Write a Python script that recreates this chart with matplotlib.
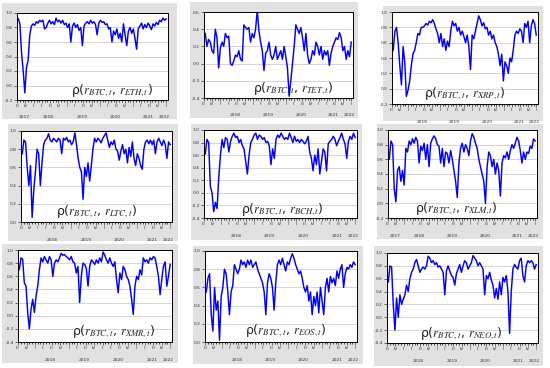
import numpy as np
import pandas as pd
import matplotlib
matplotlib.use('Agg')
import matplotlib.pyplot as plt
import matplotlib.dates as mdates
import matplotlib.transforms as mtrans
from matplotlib.patches import Rectangle
from matplotlib.ticker import FuncFormatter, MultipleLocator

plt.rcParams['mathtext.fontset'] = 'stix'

# rolling correlations with BTC (evenly spaced in time)
eth = [0.92, 0.85, 0.45, 0.2, -0.1, 0.25, 0.35, 0.7, 0.82, 0.85,
       0.83, 0.88, 0.86, 0.9, 0.88, 0.9, 0.78, 0.8, 0.86, 0.9,
       0.85, 0.88, 0.84, 0.93, 0.88, 0.9, 0.86, 0.9, 0.84, 0.86,
       0.8, 0.85, 0.6, 0.82, 0.86, 0.8, 0.84, 0.76, 0.8, 0.55,
       0.82, 0.86, 0.88, 0.85, 0.9, 0.86, 0.88, 0.84, 0.7, 0.86,
       0.9, 0.87, 0.88, 0.84, 0.85, 0.78, 0.8, 0.6, 0.75, 0.7,
       0.78, 0.65, 0.72, 0.6, 0.85, 0.7, 0.55, 0.75, 0.8, 0.72,
       0.78, 0.65, 0.5, 0.78, 0.82, 0.86, 0.78, 0.84, 0.8, 0.86,
       0.82, 0.77, 0.85, 0.82, 0.87, 0.84, 0.9, 0.88, 0.93, 0.9, 0.92]
tet = [0.35, 0.2, 0.28, 0.25, 0.15, 0.12, 0.4, 0.3, -0.05, 0.18,
       0.25, 0.2, 0.35, 0.3, 0.32, 0.0, -0.02, 0.03, 0.1, 0.08,
       0.15, 0.05, 0.03, 0.45, 0.42, 0.4, 0.42, 0.25, 0.35, 0.3,
       0.4, 0.62, 0.38, 0.25, 0.15, -0.08, 0.12, 0.15, 0.25, 0.1,
       0.05, 0.1, 0.2, 0.05, 0.1, 0.15, 0.05, 0.2, 0.08, -0.05,
       -0.38, -0.2, 0.0, 0.2, 0.45, 0.4, 0.35, 0.42, 0.3, 0.15,
       0.35, 0.1, 0.0, 0.05, 0.15, 0.1, 0.25, 0.2, 0.1, 0.2,
       0.05, 0.15, 0.1, 0.15, -0.02, 0.12, 0.2, 0.25, 0.3, 0.28,
       0.36, 0.3, 0.15, 0.2, 0.05, 0.15, 0.08, 0.25]
xrp = [0.5, 0.75, 0.8, 0.6, 0.3, 0.05, 0.55, 0.35, -0.1, -0.02,
       0.1, 0.3, 0.45, 0.5, 0.6, 0.72, 0.7, 0.8, 0.8, 0.82,
       0.85, 0.83, 0.88, 0.86, 0.9, 0.85, 0.78, 0.72, 0.6, 0.72,
       0.55, 0.65, 0.5, 0.62, 0.55, 0.75, 0.88, 0.82, 0.85, 0.75,
       0.8, 0.7, 0.75, 0.68, 0.6, 0.7, 0.55, 0.25, 0.7, 0.65,
       0.75, 0.85, 0.95, 0.9, 0.82, 0.86, 0.78, 0.8, 0.7, 0.75,
       0.65, 0.7, 0.6, 0.55, 0.45, 0.3, 0.45, 0.1, 0.35, 0.3,
       0.2, 0.4, 0.35, 0.5, 0.7, 0.75, 0.72, 0.78, 0.75, 0.6,
       0.85, 0.8, 0.88, 0.6, 0.82, 0.9, 0.85, 0.7]
ltc = [0.75, 0.9, 0.88, 0.6, 0.4, 0.62, 0.05, 0.35, 0.55, 0.8,
       0.75, 0.4, 0.65, 0.85, 0.9, 0.92, 0.97, 0.9, 0.88, 0.92,
       0.9, 0.88, 0.92, 0.9, 0.75, 0.92, 0.9, 0.93, 0.88, 0.9,
       0.85, 0.88, 0.98, 0.85, 0.7, 0.6, 0.55, 0.25, 0.6, 0.5,
       0.65, 0.45, 0.62, 0.8, 0.92, 0.88, 0.92, 0.9, 0.87, 0.92,
       0.95, 0.98, 0.9, 0.82, 0.88, 0.85, 0.9, 0.8, 0.78, 0.68,
       0.78, 0.85, 0.75, 0.8, 0.65, 0.82, 0.72, 0.88, 0.7, 0.62,
       0.75, 0.7, 0.62, 0.58, 0.8, 0.88, 0.9, 0.86, 0.9, 0.85,
       0.9, 0.75, 0.88, 0.92, 0.88, 0.84, 0.9, 0.85, 0.7, 0.88, 0.85]
bch = [0.62, 0.85, 0.8, 0.1, 0.0, -0.3, -0.15, -0.25, 0.25, 0.6,
       0.85, 0.72, 0.88, 0.85, 0.65, 0.82, 0.9, 0.95, 0.88, 0.9,
       0.8, 0.85, 0.75, 0.7, 0.5, 0.3, 0.6, 0.8, 0.85, 0.92,
       0.95, 0.85, 0.92, 0.9, 0.85, 0.88, 0.8, 0.82, 0.75, 0.45,
       0.7, 0.55, 0.85, 0.92, 0.88, 0.95, 0.9, 0.85, 0.88, 0.85,
       0.95, 0.88, 0.8, 0.9, 0.82, 0.85, 0.8, 0.85, 0.82, 0.78,
       0.82, 0.9, 0.65, 0.55, 0.35, 0.6, 0.45, 0.7, 0.3, 0.5,
       0.7, 0.65, 0.35, 0.78, 0.82, 0.85, 0.9, 0.85, 0.75, 0.82,
       0.88, 0.95, 0.85, 0.78, 0.55, 0.82, 0.9, 0.85, 0.95, 0.88]
xlm = [0.6, 0.85, 0.8, 0.2, 0.02, 0.45, 0.5, 0.3, 0.45, 0.25,
       0.75, 0.7, 0.85, 0.8, 0.88, 0.82, 0.9, 0.85, 0.55, 0.78,
       0.72, 0.82, 0.6, 0.8, 0.5, 0.82, 0.88, 0.92, 0.88, 0.8,
       0.78, 0.55, 0.75, 0.5, 0.7, 0.68, 0.55, 0.72, 0.6, 0.45,
       0.3, 0.08, 0.55, 0.75, 0.82, 0.7, 0.8, 0.75, 0.65, 0.85,
       0.95, 0.9, 0.82, 0.75, 0.6, 0.5, 0.4, 0.3, 0.0, 0.5,
       0.7, 0.65, 0.5, 0.6, 0.4, 0.55, 0.45, 0.1, 0.55, 0.65,
       0.62, 0.7, 0.6, 0.72, 0.8, 0.75, 0.82, 0.9, 0.85, 0.72,
       0.55, 0.7, 0.6, 0.7, 0.68, 0.78, 0.75, 0.88, 0.85]
xmr = [0.7, 0.88, 0.86, 0.5, 0.45, 0.05, -0.2, 0.1, 0.25, 0.05,
       0.3, 0.45, 0.7, 0.88, 0.82, 0.9, 0.85, 0.8, 0.9, 0.85,
       0.6, 0.8, 0.85, 0.82, 0.88, 0.95, 0.92, 0.93, 0.9, 0.88,
       0.85, 0.9, 0.82, 0.8, 0.65, 0.75, 0.2, 0.6, 0.8, 0.78,
       0.72, 0.45, 0.75, 0.85, 0.82, 0.78, 0.85, 0.8, 0.88, 0.82,
       0.97, 0.92, 0.85, 0.8, 0.88, 0.8, 0.75, 0.82, 0.55, 0.35,
       0.65, 0.55, 0.75, 0.7, 0.6, 0.55, 0.45, 0.25, 0.02, 0.45,
       0.6, 0.55, 0.7, 0.62, 0.88, 0.82, 0.85, 0.8, 0.88, 0.85,
       0.9, 0.88, 0.75, 0.6, 0.32, 0.55, 0.75, 0.82, 0.45, 0.6, 0.78]
eos = [0.55, 0.7, 0.75, 0.3, 0.12, 0.6, 0.35, 0.45, 0.02, 0.5,
       0.6, 0.8, 0.75, 0.55, 0.3, 0.55, 0.62, 0.85, 0.8, 0.75,
       0.8, 0.9, 0.85, 0.88, 0.82, 0.9, 0.85, 0.9, 0.82, 0.85,
       0.88, 0.8, 0.75, 0.7, 0.65, 0.55, 0.3, 0.65, 0.75, 0.7,
       0.6, 0.35, 0.65, 0.85, 0.9, 0.85, 0.92, 0.85, 0.78, 0.88,
       0.85, 0.92, 0.97, 0.92, 0.85, 0.8, 0.75, 0.78, 0.7, 0.6,
       0.55, 0.62, 0.45, 0.55, 0.3, 0.5, 0.4, 0.55, 0.32, 0.6,
       0.45, 0.3, 0.6, 0.7, 0.55, 0.72, 0.65, 0.7, 0.62, 0.78,
       0.7, 0.8, 0.85, 0.6, 0.75, 0.82, 0.8, 0.85, 0.82, 0.88, 0.85]
neo = [0.55, 0.8, 0.78, 0.2, -0.2, 0.3, 0.0, 0.35, 0.2, 0.28,
       0.35, 0.5, 0.4, 0.6, 0.7, 0.75, 0.85, 0.9, 0.8, 0.7,
       0.75, 0.78, 0.75, 0.8, 0.95, 0.92, 0.85, 0.88, 0.82, 0.85,
       0.78, 0.8, 0.75, 0.7, 0.35, 0.72, 0.8, 0.72, 0.65, 0.62,
       0.5, 0.68, 0.75, 0.82, 0.7, 0.8, 0.88, 0.85, 0.75, 0.8,
       0.85, 0.96, 0.92, 0.88, 0.8, 0.85, 0.8, 0.75, 0.35, 0.65,
       0.6, 0.7, 0.58, 0.5, 0.3, 0.45, 0.28, 0.55, 0.35, 0.62,
       0.55, 0.65, 0.4, -0.25, 0.4, 0.75, 0.82, 0.78, 0.75, 0.88,
       0.92, 0.65, 0.55, 0.8, 0.88, 0.85, 0.88, 0.85, 0.75, 0.82]

names = ['ETH', 'TET', 'XRP', 'LTC', 'BCH', 'XLM', 'XMR', 'EOS', 'NEO']
series = [eth, tet, xrp, ltc, bch, xlm, xmr, eos, neo]
y_limits = [(-0.2, 1.0), (-0.4, 0.6), (-0.2, 1.0), (0.0, 1.0), (-0.4, 1.0),
            (-0.2, 1.0), (-0.4, 1.0), (0.0, 1.0), (-0.4, 1.0)]
years = [2017, 2018, 2019, 2020, 2021, 2022]
quarter_names = {1: 'I', 4: 'II', 7: 'III', 10: 'IV'}
start_date, end_date = '2017-07-15', '2021-12-31'

W, H = 550, 368
# pixel boxes: axes (x0, y0, x1, y1), grey frame, label position in axes coords
ax_boxes = [(17, 13, 168, 100), (204, 12, 353, 98), (392, 12, 538, 104),
            (21, 131, 172, 222), (204, 130, 357, 218), (388, 130, 537, 218),
            (18, 250, 172, 342), (205, 251, 357, 342), (387, 253, 538, 343)]
frames = [(2, 3, 177, 119), (190, 2, 358, 118), (383, 6, 543, 121),
          (8, 124, 178, 241), (191, 124, 362, 240), (377, 124, 543, 239),
          (2, 244, 178, 363), (193, 246, 363, 364), (374, 246, 543, 366)]
label_pos = [(0.63, 0.11), (0.6, 0.11), (0.5, 0.11), (0.5, 0.11), (0.51, 0.1),
             (0.46, 0.11), (0.62, 0.11), (0.53, 0.12), (0.49, 0.11)]
show_2017 = [True, False, False, False, False, True, False, False, False]

fig = plt.figure(figsize=(W / 100, H / 100), dpi=100)
fig.patch.set_facecolor('white')

def fig_rect(b):
    x0, y0, x1, y1 = b
    return [x0 / W, 1 - y1 / H, (x1 - x0) / W, (y1 - y0) / H]

xmin = pd.Timestamp('2017-07-01')
xmax = pd.Timestamp('2022-01-20')

for k in range(9):
    fx, fy, fw, fh = fig_rect(frames[k])
    fig.add_artist(Rectangle((fx, fy), fw, fh, transform=fig.transFigure,
                             facecolor='#e1e1e1', edgecolor='none', zorder=0))
    ax = fig.add_axes(fig_rect(ax_boxes[k]))
    ax.set_facecolor('white')
    vals = series[k]
    dates = pd.date_range(start_date, end_date, periods=len(vals))
    ax.plot(dates, vals, color='#0000ff', lw=1.05)
    lo, hi = y_limits[k]
    ax.set_ylim(lo, hi)
    ax.set_xlim(xmin, xmax)
    ax.yaxis.set_major_locator(MultipleLocator(0.2))
    ax.yaxis.set_major_formatter(FuncFormatter(lambda v, p: f'{v:.1f}'))
    ax.grid(axis='y', color='#c4c4c4', lw=0.5)
    ax.xaxis.set_major_locator(mdates.MonthLocator(bymonth=[1, 4, 7, 10]))
    ax.xaxis.set_minor_locator(mdates.MonthLocator())
    ax.xaxis.set_major_formatter(FuncFormatter(
        lambda v, p: quarter_names[mdates.num2date(v).month]))
    ax.tick_params(axis='both', which='major', labelsize=3.2, length=2,
                   width=0.5, pad=1, colors='#333333')
    ax.tick_params(axis='x', which='minor', length=1.5, width=0.5)
    for s in ax.spines.values():
        s.set_linewidth(0.7)
        s.set_color('black')
    trans = mtrans.blended_transform_factory(ax.transData, ax.transAxes)
    for yr in years:
        if yr == 2017 and not show_2017[k]:
            continue
        if yr == 2017:
            pos = pd.Timestamp('2017-09-15')
        elif yr == 2022:
            pos = pd.Timestamp('2021-12-10')
        else:
            pos = pd.Timestamp(f'{yr}-06-15')
        ax.text(pos, -0.2, str(yr), transform=trans, fontsize=3.2,
                color='#333333', ha='center', va='center', clip_on=False)
    lx, ly = label_pos[k]
    ax.text(lx, ly, 'ρ($r_{BTC,t}$, $r_{' + names[k] + ',t}$)',
            transform=ax.transAxes, fontsize=9, color='#222222',
            ha='center', va='center')

fig.savefig('out.png', dpi=100)
